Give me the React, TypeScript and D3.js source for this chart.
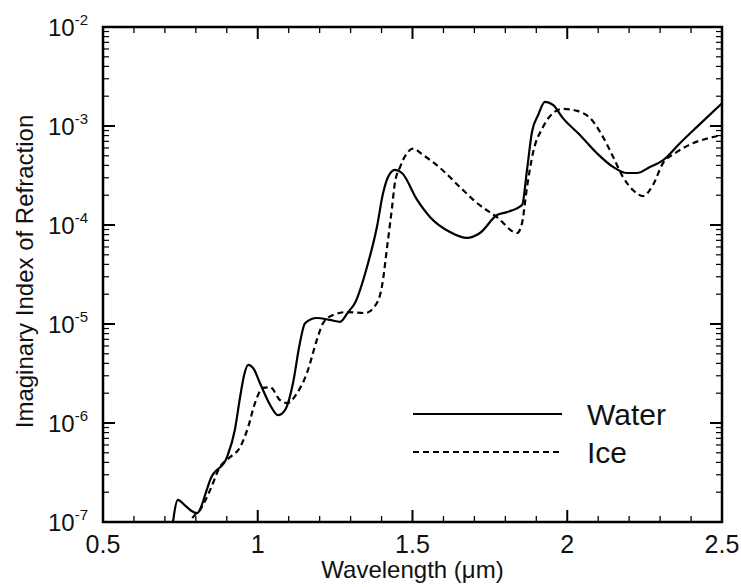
import React from "react";
import * as d3 from "d3";

const waterWl = [0.722, 0.742, 0.762, 0.785, 0.804, 0.835, 0.846, 0.901, 0.926, 0.943, 0.956, 0.969, 0.985, 1.007, 1.04, 1.065, 1.088, 1.114, 1.136, 1.153, 1.191, 1.233, 1.266, 1.292, 1.314, 1.353, 1.385, 1.405, 1.421, 1.443, 1.466, 1.515, 1.557, 1.621, 1.676, 1.718, 1.773, 1.805, 1.854, 1.87, 1.886, 1.906, 1.928, 1.954, 1.986, 2.041, 2.096, 2.148, 2.193, 2.225, 2.267, 2.309, 2.364, 2.419, 2.5];
const waterK = [8e-8, 1.67e-7, 1.5e-7, 1.3e-7, 1.23e-7, 2.1e-7, 2.65e-7, 4.54e-7, 8.5e-7, 1.83e-6, 3.05e-6, 3.86e-6, 3.6e-6, 2.54e-6, 1.52e-6, 1.2e-6, 1.35e-6, 2.54e-6, 6.4e-6, 1.02e-5, 1.15e-5, 1.1e-5, 1.05e-5, 1.32e-5, 1.63e-5, 3.77e-5, 9.55e-5, 2.1e-4, 3.05e-4, 3.6e-4, 3.35e-4, 1.79e-4, 1.2e-4, 8.5e-5, 7.4e-5, 8.3e-5, 1.26e-4, 1.35e-4, 1.59e-4, 3.6e-4, 8.7e-4, 1.29e-3, 1.75e-3, 1.63e-3, 1.2e-3, 8.1e-4, 5.3e-4, 3.86e-4, 3.35e-4, 3.35e-4, 3.86e-4, 4.5e-4, 6.7e-4, 9.8e-4, 1.7e-3];

const iceWl = [0.77, 0.797, 0.813, 0.846, 0.878, 0.91, 0.943, 0.969, 0.991, 1.017, 1.04, 1.072, 1.095, 1.127, 1.159, 1.191, 1.211, 1.243, 1.288, 1.347, 1.385, 1.401, 1.418, 1.434, 1.443, 1.46, 1.482, 1.502, 1.534, 1.589, 1.653, 1.708, 1.773, 1.838, 1.854, 1.87, 1.889, 1.922, 1.954, 1.986, 2.032, 2.074, 2.116, 2.148, 2.18, 2.212, 2.245, 2.277, 2.309, 2.348, 2.406, 2.461, 2.5];
const iceK = [9e-8, 1.18e-7, 1.32e-7, 2.1e-7, 3.6e-7, 4.5e-7, 5.7e-7, 9.1e-7, 1.59e-6, 2.26e-6, 2.3e-6, 1.7e-6, 1.59e-6, 2.0e-6, 3.2e-6, 6.9e-6, 1.02e-5, 1.23e-5, 1.32e-5, 1.29e-5, 1.63e-5, 2.37e-5, 6.0e-5, 1.52e-4, 2.65e-4, 3.86e-4, 5.3e-4, 5.9e-4, 5.1e-4, 3.77e-4, 2.42e-4, 1.67e-4, 1.2e-4, 8.3e-5, 1.05e-4, 2.42e-4, 5.3e-4, 9.8e-4, 1.35e-3, 1.49e-3, 1.42e-3, 1.2e-3, 7.7e-4, 4.9e-4, 3.05e-4, 2.26e-4, 1.96e-4, 2.54e-4, 4.2e-4, 5.3e-4, 6.7e-4, 7.6e-4, 8.1e-4];

const xTicks = [0.5, 1, 1.5, 2, 2.5];
const xTickLabels = ["0.5", "1", "1.5", "2", "2.5"];
const yExponents = [-7, -6, -5, -4, -3, -2];
const legendLabels = ["Water", "Ice"];

const W = 741;
const H = 587;
const M = { left: 103, right: 722, top: 27, bottom: 522 };
const FONT = "'Liberation Sans', Arial, Helvetica, sans-serif";

export default function App() {
  const x = d3.scaleLinear().domain([0.5, 2.5]).range([M.left, M.right]);
  const y = d3.scaleLog().domain([1e-7, 1e-2]).range([M.bottom, M.top]);

  const line = d3
    .line<[number, number]>()
    .x((d) => x(d[0]))
    .y((d) => y(d[1]))
    .curve(d3.curveMonotoneX);

  const water: [number, number][] = waterWl.map((w, i) => [w, waterK[i]]);
  const ice: [number, number][] = iceWl.map((w, i) => [w, iceK[i]]);

  const xMinor = d3.range(5, 26).map((v) => v / 10).filter((v) => !xTicks.some((t) => Math.abs(t - v) < 1e-6));
  const yMinor: number[] = [];
  for (let e = -7; e < -2; e++) {
    for (let m = 2; m <= 9; m++) yMinor.push(m * Math.pow(10, e));
  }
  const major = 12;
  const minor = 6;

  const legendY = [414, 452];

  return (
    <svg width={W} height={H} style={{ position: "absolute", left: 0, top: 0, background: "#fff" }}>
      <defs>
        <clipPath id="plot">
          <rect x={M.left} y={M.top} width={M.right - M.left} height={M.bottom - M.top} />
        </clipPath>
      </defs>
      <g clipPath="url(#plot)">
        <path d={line(water) || ""} fill="none" stroke="#000" strokeWidth={2.2} />
        <path d={line(ice) || ""} fill="none" stroke="#000" strokeWidth={2.2} strokeDasharray="6,4" />
      </g>
      {/* ticks */}
      <g stroke="#000">
        {xTicks.map((t) => (
          <g key={"xt" + t}>
            <line x1={x(t)} x2={x(t)} y1={M.bottom} y2={M.bottom - major} strokeWidth={2} />
            <line x1={x(t)} x2={x(t)} y1={M.top} y2={M.top + major} strokeWidth={2} />
          </g>
        ))}
        {xMinor.map((t) => (
          <g key={"xm" + t}>
            <line x1={x(t)} x2={x(t)} y1={M.bottom} y2={M.bottom - minor} strokeWidth={1.3} />
            <line x1={x(t)} x2={x(t)} y1={M.top} y2={M.top + minor} strokeWidth={1.3} />
          </g>
        ))}
        {yExponents.map((e) => (
          <g key={"yt" + e}>
            <line x1={M.left} x2={M.left + major} y1={y(Math.pow(10, e))} y2={y(Math.pow(10, e))} strokeWidth={2} />
            <line x1={M.right} x2={M.right - major} y1={y(Math.pow(10, e))} y2={y(Math.pow(10, e))} strokeWidth={2} />
          </g>
        ))}
        {yMinor.map((v, i) => (
          <g key={"ym" + i}>
            <line x1={M.left} x2={M.left + minor} y1={y(v)} y2={y(v)} strokeWidth={1.2} />
            <line x1={M.right} x2={M.right - minor} y1={y(v)} y2={y(v)} strokeWidth={1.2} />
          </g>
        ))}
      </g>
      <rect x={M.left} y={M.top} width={M.right - M.left} height={M.bottom - M.top} fill="none" stroke="#000" strokeWidth={2.5} />
      {/* x tick labels */}
      {xTicks.map((t, i) => (
        <text key={"xl" + t} x={x(t)} y={553} textAnchor="middle" fontFamily={FONT} fontSize={25} fill="#111">
          {xTickLabels[i]}
        </text>
      ))}
      {/* y tick labels */}
      {yExponents.map((e) => (
        <text key={"yl" + e} x={88} y={y(Math.pow(10, e)) + 9} textAnchor="end" fontFamily={FONT} fontSize={24} fill="#111">
          10
          <tspan dy={-11} fontSize={15}>{String(e)}</tspan>
        </text>
      ))}
      {/* axis titles */}
      <text x={(M.left + M.right) / 2} y={578} textAnchor="middle" fontFamily={FONT} fontSize={24} fill="#111">
        Wavelength (μm)
      </text>
      <text
        transform={`translate(33, ${(M.top + M.bottom) / 2 - 3}) rotate(-90)`}
        textAnchor="middle"
        fontFamily={FONT}
        fontSize={24}
        fill="#111"
      >
        Imaginary Index of Refraction
      </text>
      {/* legend */}
      <line x1={413} x2={562} y1={legendY[0]} y2={legendY[0]} stroke="#000" strokeWidth={2.2} />
      <line x1={413} x2={562} y1={legendY[1]} y2={legendY[1]} stroke="#000" strokeWidth={2.2} strokeDasharray="6,4" />
      {legendLabels.map((l, i) => (
        <text key={l} x={587} y={legendY[i] + 11} fontFamily={FONT} fontSize={30} fill="#111">
          {l}
        </text>
      ))}
    </svg>
  );
}
